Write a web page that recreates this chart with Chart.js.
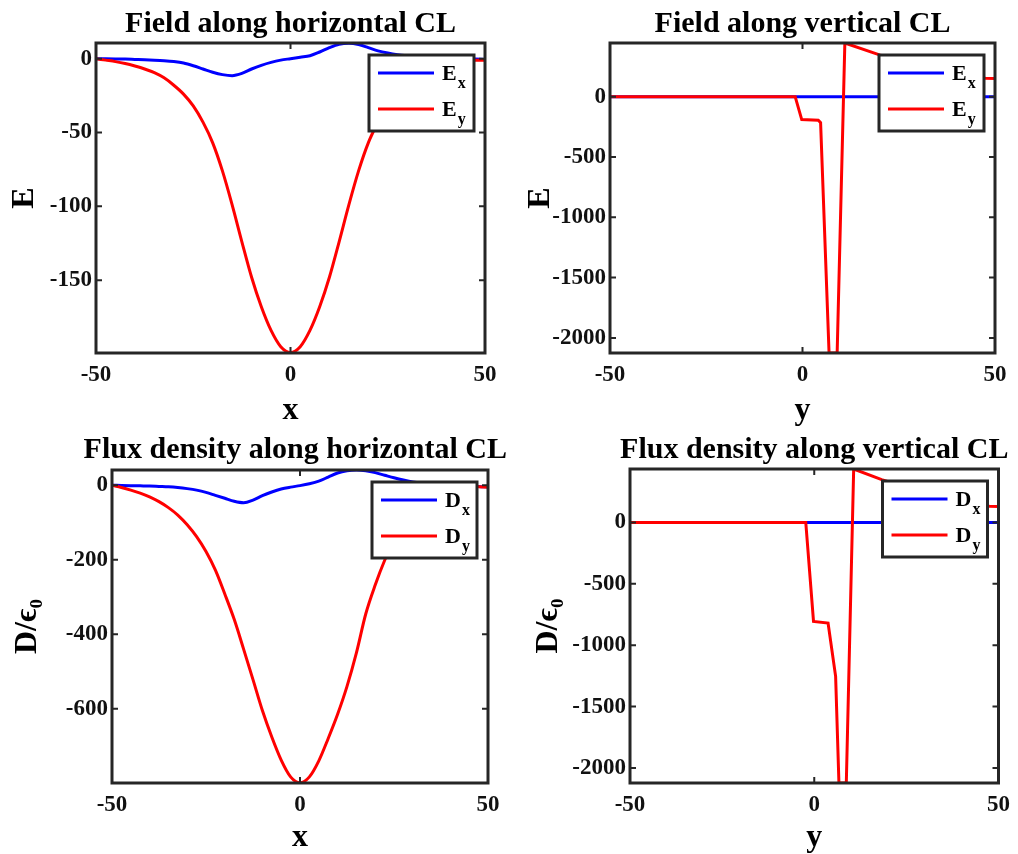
<!DOCTYPE html>
<html>
<head>
<meta charset="utf-8">
<script src="https://cdn.jsdelivr.net/npm/chart.js@4.4.1/dist/chart.umd.min.js"></script>
<style>
  html, body { margin: 0; padding: 0; background: #fff; overflow: hidden; }
  body { width: 1018px; height: 854px; position: relative; }
  canvas { position: absolute; }
</style>
</head>
<body>
<canvas id="fieldH" width="509" height="430" style="left:0;top:0"></canvas>
<canvas id="fieldV" width="509" height="430" style="left:509px;top:0"></canvas>
<canvas id="fluxH" width="509" height="424" style="left:0;top:430px"></canvas>
<canvas id="fluxV" width="509" height="424" style="left:509px;top:430px"></canvas>
<script>
// ---- data ----
// horizontal centre line, sample positions
const xH = [-50, -47.5, -45, -42.5, -40, -37.5, -35, -32.5, -30, -27.5, -25, -22.5, -20, -17.5, -15, -12.5, -10, -7.5, -5, -2.5,
            0, 2.5, 5, 7.5, 10, 12.5, 15, 17.5, 20, 22.5, 25, 27.5, 30, 32.5, 35, 37.5, 40, 42.5, 45, 47.5, 50];
const exH = [0, -0.1, -0.2, -0.3, -0.5, -0.7, -1, -1.4, -2, -3, -4.8, -7, -9.2, -10.8, -11.5, -10, -7, -4.5, -2.5, -1,
             0, 1, 2, 4.5, 7.5, 9.8, 10.5, 9.6, 7.5, 5.3, 3.8, 2.7, 2, 1.5, 1, 0.7, 0.4, 0.2, 0, -0.3, -0.5];
const eyH = [0, -1, -2, -3.3, -5, -7, -9.5, -13, -18, -24, -32, -43, -57, -76, -99, -124, -148, -168, -184, -195,
             -199, -195, -184, -168, -148, -124, -99, -76, -57, -43, -31, -21, -14, -9, -5.5, -3.5, -2, -1.2, -0.8, -1, -1];
const dxH = [0, -0.5, -1, -1.5, -2, -3, -4, -6, -9, -13, -19, -27, -35, -43, -47, -40, -28, -18, -10, -5,
             -1, 4, 11, 22, 33, 39, 41, 39, 34, 27, 20, 14, 9, 6, 4, 2, 1, 0, -1, -3, -4];
const dyH = [0, -6, -13, -21, -31, -44, -60, -80, -106, -138, -178, -228, -292, -360, -440, -522, -605, -676, -738, -783,
             -799, -783, -740, -680, -615, -540, -450, -345, -268, -202, -148, -105, -72, -48, -30, -18, -10, -5, -3, -4, -5];

// vertical centre line (piecewise linear)
const yVE = [-50, 50];
const exV = [0, 0];
const yVEy = [-50, -1.9, -0.2, 4.1, 4.7, 6.9, 9.0, 11, 20, 30, 40, 47.5, 50];
const eyV = [0, 0, -190, -195, -215, -2125, -2125, 445, 346, 255, 190, 152, 150];
const yVD = [-50, 50];
const dxV = [0, 0];
const yVDy = [-50, -2.3, -0.2, 3.75, 5.8, 6.7, 8.7, 10.7, 18.3, 30, 40, 47.5, 50];
const dyV = [0, 0, -806, -819, -1254, -2122, -2122, 435, 348, 240, 175, 132, 130];

// axis ticks
const posTicks = [-50, 0, 50];
const eHTicks = [-150, -100, -50, 0];
const dHTicks = [-600, -400, -200, 0];
const vTicks = [-2000, -1500, -1000, -500, 0];

const BLUE = '#0000ff';
const RED = '#ff0000';
const AXIS_COLOR = '#262626';
const SERIF = '"Liberation Serif", "Times New Roman", serif';

const pts = (xs, ys) => xs.map((x, i) => ({ x: x, y: ys[i] }));

// MATLAB-like box, inward ticks, legend with subscripts and title
const matlabLook = {
    id: 'matlabLook',
    afterDatasetsDraw(chart, args, opts) {
        const { ctx, chartArea: a, scales } = chart;
        ctx.save();

        ctx.strokeStyle = AXIS_COLOR;
        ctx.lineWidth = 3;
        ctx.strokeRect(a.left, a.top, a.right - a.left, a.bottom - a.top);

        ctx.lineWidth = 2;
        ctx.beginPath();
        scales.x.ticks.forEach(t => {
            const px = scales.x.getPixelForValue(t.value);
            ctx.moveTo(px, a.bottom); ctx.lineTo(px, a.bottom - 6);
            ctx.moveTo(px, a.top); ctx.lineTo(px, a.top + 6);
        });
        scales.y.ticks.forEach(t => {
            const py = scales.y.getPixelForValue(t.value);
            ctx.moveTo(a.left, py); ctx.lineTo(a.left + 6, py);
            ctx.moveTo(a.right, py); ctx.lineTo(a.right - 6, py);
        });
        ctx.stroke();

        // legend
        const bw = 105, bh = 76;
        const bx = a.right - 11 - bw, by = a.top + 12;
        ctx.fillStyle = '#fff';
        ctx.fillRect(bx, by, bw, bh);
        ctx.strokeStyle = AXIS_COLOR;
        ctx.lineWidth = 3;
        ctx.strokeRect(bx, by, bw, bh);
        chart.data.datasets.forEach((ds, i) => {
            const cy = by + 18 + i * 36;
            ctx.strokeStyle = ds.borderColor;
            ctx.lineWidth = 3;
            ctx.beginPath();
            ctx.moveTo(bx + 9, cy);
            ctx.lineTo(bx + 65, cy);
            ctx.stroke();
            const [main, sub] = ds.label.split('_');
            ctx.fillStyle = '#000';
            ctx.textAlign = 'left';
            ctx.textBaseline = 'alphabetic';
            ctx.font = 'bold 22px ' + SERIF;
            ctx.fillText(main, bx + 73, cy + 7);
            const w = ctx.measureText(main).width;
            ctx.font = 'bold 16px ' + SERIF;
            ctx.fillText(sub, bx + 74 + w, cy + 15);
        });

        // title
        ctx.font = 'bold 30px ' + SERIF;
        ctx.fillStyle = '#000';
        ctx.textAlign = 'center';
        ctx.textBaseline = 'alphabetic';
        const tw = ctx.measureText(opts.text).width;
        let cx = (a.left + a.right) / 2;
        if (cx + tw / 2 > chart.width - 2) cx = chart.width - 2 - tw / 2;
        ctx.fillText(opts.text, cx, opts.baseline);

        ctx.restore();
    }
};

function makePanel(id, cfg) {
    const tickFont = { family: SERIF, size: 23, weight: 'bold' };
    const labelFont = { family: SERIF, size: 32, weight: 'bold' };
    return new Chart(document.getElementById(id), {
        type: 'line',
        data: { datasets: cfg.datasets },
        options: {
            responsive: false,
            animation: false,
            layout: { padding: { top: cfg.padTop, right: cfg.padRight, left: 0, bottom: 0 } },
            elements: { point: { radius: 0 } },
            plugins: {
                legend: { display: false },
                tooltip: { enabled: false },
                title: { display: false },
                matlabLook: { text: cfg.title, baseline: cfg.titleBaseline },
            },
            scales: {
                x: {
                    type: 'linear',
                    min: -50,
                    max: 50,
                    afterBuildTicks: s => { s.ticks = posTicks.map(v => ({ value: v })); },
                    afterFit: s => { s.height = cfg.xHeight; },
                    ticks: { font: tickFont, color: '#111', padding: 8, maxRotation: 0, callback: v => String(v) },
                    grid: { display: false, drawTicks: false },
                    border: { display: false },
                    title: { display: true, text: cfg.xLabel, font: labelFont, color: '#000', padding: { top: 0, bottom: cfg.xTitlePad } },
                },
                y: {
                    type: 'linear',
                    min: cfg.yMin,
                    max: cfg.yMax,
                    afterBuildTicks: s => { s.ticks = cfg.yTicks.map(v => ({ value: v })); },
                    afterFit: s => { s.width = cfg.yWidth; },
                    ticks: { font: tickFont, color: '#111', padding: 4, callback: v => String(v) },
                    grid: { display: false, drawTicks: false },
                    border: { display: false },
                    title: { display: true, text: cfg.yLabel, font: labelFont, color: '#000', padding: { top: cfg.yTitlePad, bottom: 0 } },
                },
            },
        },
        plugins: [matlabLook],
    });
}

function series(label, xs, ys, color, order, smooth) {
    return {
        label: label,
        data: pts(xs, ys),
        borderColor: color,
        backgroundColor: color,
        borderWidth: 3,
        fill: false,
        order: order,
        tension: smooth ? 0.4 : 0,
        cubicInterpolationMode: smooth ? 'monotone' : 'default',
    };
}

makePanel('fieldH', {
    title: 'Field along horizontal CL', titleBaseline: 32,
    padTop: 43, padRight: 24, yWidth: 96, xHeight: 77,
    xLabel: 'x', yLabel: 'E', xTitlePad: 0, yTitlePad: 6,
    yMin: -199.3, yMax: 10.6, yTicks: eHTicks,
    datasets: [
        series('E_x', xH, exH, BLUE, 1, true),
        series('E_y', xH, eyH, RED, 0, true),
    ],
});

makePanel('fieldV', {
    title: 'Field along vertical CL', titleBaseline: 32,
    padTop: 43, padRight: 23, yWidth: 101, xHeight: 77,
    xLabel: 'y', yLabel: 'E', xTitlePad: 0, yTitlePad: 13,
    yMin: -2125, yMax: 445, yTicks: vTicks,
    datasets: [
        series('E_x', yVE, exV, BLUE, 1, false),
        series('E_y', yVEy, eyV, RED, 0, false),
    ],
});

makePanel('fluxH', {
    title: 'Flux density along horizontal CL', titleBaseline: 28,
    padTop: 40, padRight: 21, yWidth: 112, xHeight: 71,
    xLabel: 'x', yLabel: 'D/\u03F5\u2080', xTitlePad: -3, yTitlePad: 9,
    yMin: -799.5, yMax: 41, yTicks: dHTicks,
    datasets: [
        series('D_x', xH, dxH, BLUE, 1, true),
        series('D_y', xH, dyH, RED, 0, true),
    ],
});

makePanel('fluxV', {
    title: 'Flux density along vertical CL', titleBaseline: 28,
    padTop: 39, padRight: 15, yWidth: 121, xHeight: 71,
    xLabel: 'y', yLabel: 'D/\u03F5\u2080', xTitlePad: -3, yTitlePad: 21,
    yMin: -2122, yMax: 435, yTicks: vTicks,
    datasets: [
        series('D_x', yVD, dxV, BLUE, 1, false),
        series('D_y', yVDy, dyV, RED, 0, false),
    ],
});
</script>
</body>
</html>
